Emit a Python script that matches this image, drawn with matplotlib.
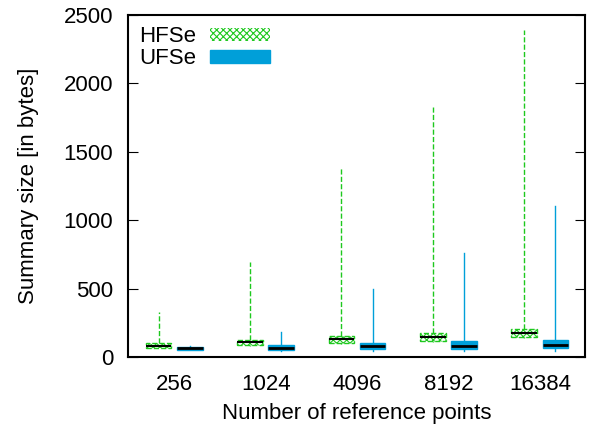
import matplotlib
matplotlib.use('Agg')
import matplotlib.pyplot as plt
from matplotlib.patches import Patch

# data (bytes)
categories = ['256', '1024', '4096', '8192', '16384']
hfse_lo = [62, 80, 95, 110, 138]
hfse_q1 = [66, 85, 100, 119, 144]
hfse_med = [80, 107, 129, 148, 173]
hfse_q3 = [102, 124, 153, 173, 202]
hfse_hi = [330, 694, 1380, 1830, 2390]

ufse_lo = [48, 46, 46, 46, 46]
ufse_q1 = [51, 51, 56, 58, 63]
ufse_med = [62, 68, 78, 80, 85]
ufse_q3 = [73, 90, 105, 114, 124]
ufse_hi = [83, 180, 500, 760, 1100]

green = '#1ec81e'
blue = '#009fd9'
off, width = 0.17, 0.28

plt.rcParams['font.family'] = ['Liberation Sans', 'DejaVu Sans']
plt.rcParams['font.size'] = 16
plt.rcParams['hatch.linewidth'] = 0.8

fig = plt.figure(figsize=(5.92, 4.30), dpi=100)
ax = fig.add_axes([0.217, 0.170, 0.772, 0.795])


def stats(lo, q1, med, q3, hi):
    return [dict(whislo=a, q1=b, med=c, q3=d, whishi=e, fliers=[])
            for a, b, c, d, e in zip(lo, q1, med, q3, hi)]


pos = range(len(categories))
bh = ax.bxp(stats(hfse_lo, hfse_q1, hfse_med, hfse_q3, hfse_hi),
            positions=[p - off for p in pos], widths=width, patch_artist=True,
            showcaps=False, showfliers=False,
            boxprops=dict(facecolor='white', edgecolor=green, hatch='xxxxx',
                          linestyle='--', linewidth=1),
            whiskerprops=dict(color=green, linestyle='--', linewidth=1),
            medianprops=dict(color='black', linewidth=1.5))
bu = ax.bxp(stats(ufse_lo, ufse_q1, ufse_med, ufse_q3, ufse_hi),
            positions=[p + off for p in pos], widths=width, patch_artist=True,
            showcaps=False, showfliers=False,
            boxprops=dict(facecolor=blue, edgecolor=blue, linewidth=1),
            whiskerprops=dict(color=blue, linewidth=1),
            medianprops=dict(color='black', linewidth=2))

ax.set_xlim(-0.5, 4.5)
ax.set_ylim(0, 2500)
ax.set_xticks(list(pos))
ax.set_xticklabels(categories)
ax.set_yticks(range(0, 2501, 500))
ax.tick_params(axis='x', length=0, pad=12)
ax.tick_params(axis='y', direction='in', length=7, right=True, pad=11)
for s in ax.spines.values():
    s.set_linewidth(1.5)

ax.set_xlabel('Number of reference points', labelpad=6)
ax.set_ylabel('Summary size [in bytes]', labelpad=18)

handles = [Patch(facecolor='white', edgecolor=green, hatch='xxxxx', linewidth=0),
           Patch(facecolor=blue, edgecolor=blue)]
ax.legend(handles, ['HFSe', 'UFSe'], loc='upper left', frameon=False,
          markerfirst=False, handlelength=2.7, handleheight=0.55,
          handletextpad=0.6, labelspacing=0.05, borderaxespad=0.2,
          borderpad=0.3)

fig.savefig('out.png', dpi=100)
